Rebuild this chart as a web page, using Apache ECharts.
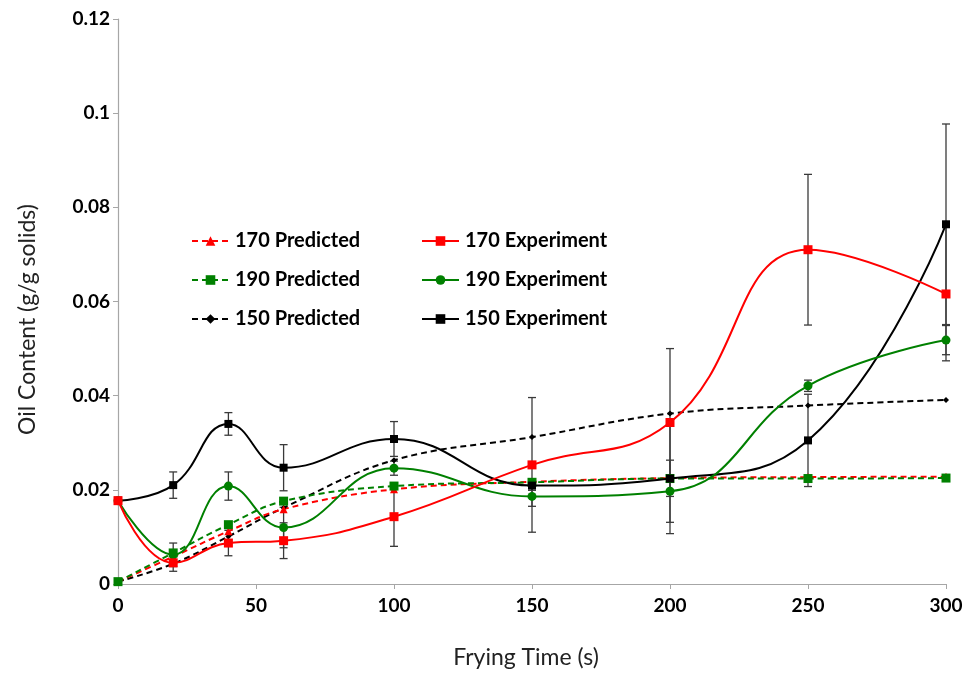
<!DOCTYPE html>
<html>
<head>
<meta charset="utf-8">
<script src="https://cdn.jsdelivr.net/npm/echarts@6/dist/echarts.min.js"></script>
<style>
html,body{margin:0;padding:0;background:#fff;}
#chart{width:975px;height:674px;}
</style>
</head>
<body>
<div id="chart"></div>
<script>
// Frying time (s)
const times = [0, 20, 40, 60, 100, 150, 200, 250, 300];

// Predicted oil content (g/g solids)
const pred170 = [0.0005, 0.0058, 0.0112, 0.0159, 0.0201, 0.0217, 0.0225, 0.0227, 0.0228];
const pred190 = [0.0005, 0.0066, 0.0126, 0.0176, 0.0208, 0.0216, 0.0224, 0.0224, 0.0225];
const pred150 = [0.0005, 0.0043, 0.0101, 0.0162, 0.0263, 0.0312, 0.0362, 0.0379, 0.0391];

// Experimental oil content (g/g solids)
const exp170 = [0.0177, 0.0045, 0.0087, 0.0092, 0.0143, 0.0253, 0.0343, 0.0710, 0.0616];
const exp190 = [0.0177, 0.0062, 0.0208, 0.0120, 0.0246, 0.0186, 0.0197, 0.0421, 0.0518];
const exp150 = [0.0177, 0.0210, 0.0340, 0.0247, 0.0308, 0.0209, 0.0224, 0.0305, 0.0764];

// Error bar half-widths (±)
const err170 = [0, 0.0018, 0.0027, 0.0038, 0.0063, 0.0143, 0.0157, 0.0160, 0.0142];
const err190 = [0, 0.0025, 0.0030, 0.0043, 0.0015, 0.0021, 0.0066, 0.0012, 0.0031];
const err150 = [0, 0.0028, 0.0024, 0.0049, 0.0037, 0.0010, 0.0117, 0.0098, 0.0213];

const FONT = 'Lato, "Liberation Sans", sans-serif';
const RED = '#ff0000', GREEN = '#008000', BLACK = '#000000';

function pairs(ys) { return times.map((t, i) => [t, ys[i]]); }

function predSeries(name, ys, color, symbol, size) {
  return {
    name, type: 'line', data: pairs(ys), smooth: 0.4,
    symbol, symbolSize: size, z: 3,
    lineStyle: { color, width: 2, type: [6, 4] },
    itemStyle: { color, borderWidth: 0 }
  };
}
function expSeries(name, ys, color, symbol, size) {
  return {
    name, type: 'line', data: pairs(ys), smooth: 0.45,
    symbol, symbolSize: size, z: 4,
    lineStyle: { color, width: 2 },
    itemStyle: { color, borderWidth: 0 }
  };
}
function errSeries(ys, errs) {
  return {
    type: 'custom', silent: true, z: 2,
    data: times.map((t, i) => [t, ys[i], errs[i]]),
    renderItem(params, api) {
      const x = api.value(0), y = api.value(1), e = api.value(2);
      if (!e) return null;
      const top = api.coord([x, y + e]);
      const bot = api.coord([x, y - e]);
      const hw = 4;
      const st = { stroke: '#3a3a3a', lineWidth: 1.3 };
      return {
        type: 'group', children: [
          { type: 'line', shape: { x1: top[0], y1: top[1], x2: bot[0], y2: bot[1] }, style: st },
          { type: 'line', shape: { x1: top[0] - hw, y1: top[1], x2: top[0] + hw, y2: top[1] }, style: st },
          { type: 'line', shape: { x1: bot[0] - hw, y1: bot[1], x2: bot[0] + hw, y2: bot[1] }, style: st }
        ]
      };
    }
  };
}

const legendText = { fontFamily: FONT, fontWeight: 'bold', fontSize: 20, color: '#000', lineHeight: 20, padding: [0, 0, 0, 1] };

const option = {
  animation: false,
  backgroundColor: '#fff',
  grid: { left: 118, right: 29, top: 19, bottom: 86 },
  legend: [
    {
      data: ['170 Predicted', '190 Predicted', '150 Predicted'],
      orient: 'vertical', left: 186, top: 226, itemGap: 19,
      itemWidth: 37, itemHeight: 12, textStyle: legendText
    },
    {
      data: ['170 Experiment', '190 Experiment', '150 Experiment'],
      orient: 'vertical', left: 416, top: 226, itemGap: 19,
      itemWidth: 37, itemHeight: 12, textStyle: legendText
    }
  ],
  xAxis: {
    type: 'value', min: 0, max: 300, interval: 50,
    name: 'Frying Time (s)', nameLocation: 'middle', nameGap: 62,
    nameTextStyle: { fontFamily: FONT, fontSize: 23, color: '#222', padding: [0, 12, 0, 0] },
    axisLine: { show: true, lineStyle: { color: '#a6a6a6', width: 1.2 } },
    axisTick: { show: true, length: 5, lineStyle: { color: '#a6a6a6' } },
    axisLabel: { fontFamily: FONT, fontWeight: 'bold', fontSize: 19, color: '#000', margin: 12 },
    splitLine: { show: false }
  },
  yAxis: {
    type: 'value', min: 0, max: 0.12, interval: 0.02,
    name: 'Oil Content (g/g solids)', nameLocation: 'middle', nameGap: 79,
    nameTextStyle: { fontFamily: FONT, fontSize: 23, color: '#222', padding: [0, 36, 0, 0], align: 'center' },
    axisLine: { show: true, lineStyle: { color: '#a6a6a6', width: 1.2 } },
    axisTick: { show: true, length: 5, lineStyle: { color: '#a6a6a6' } },
    axisLabel: { fontFamily: FONT, fontWeight: 'bold', fontSize: 19, color: '#000', margin: 8 },
    splitLine: { show: false }
  },
  series: [
    errSeries(exp170, err170),
    errSeries(exp190, err190),
    errSeries(exp150, err150),
    predSeries('150 Predicted', pred150, BLACK, 'diamond', 6),
    predSeries('170 Predicted', pred170, RED, 'triangle', 8),
    predSeries('190 Predicted', pred190, GREEN, 'rect', 9),
    expSeries('150 Experiment', exp150, BLACK, 'rect', 8),
    expSeries('190 Experiment', exp190, GREEN, 'circle', 9),
    expSeries('170 Experiment', exp170, RED, 'rect', 9)
  ]
};

const chart = echarts.init(document.getElementById('chart'), null, { renderer: 'canvas' });
chart.setOption(option);
</script>
</body>
</html>
